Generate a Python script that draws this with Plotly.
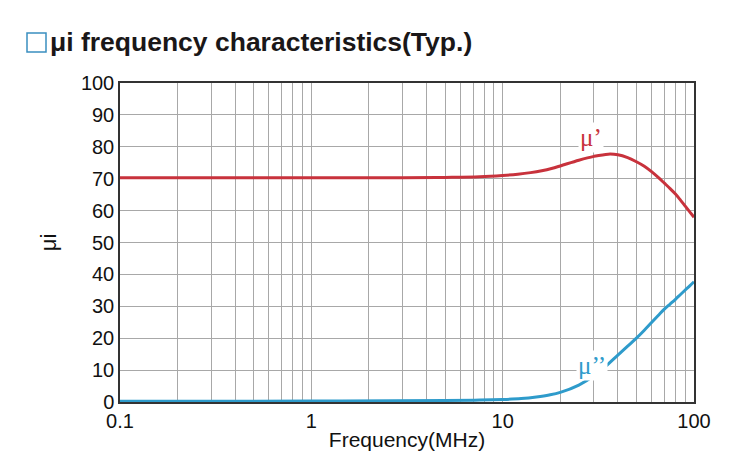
import plotly.graph_objects as go
import math

# ---- data ----
freq_mu_p = [0.1, 0.3, 1, 3, 5, 7.6, 10, 12, 14, 16, 18, 20, 25, 30, 35.6, 40, 45, 50, 55, 60, 65, 70, 75, 80, 85, 90, 95, 100]
mu_p = [70.3, 70.3, 70.3, 70.3, 70.4, 70.6, 71.0, 71.4, 71.9, 72.5, 73.2, 74.0, 75.8, 77.0, 77.7, 77.5, 76.6, 75.3, 73.9, 72.2, 70.4, 68.6, 66.9, 65.2, 63.3, 61.4, 59.6, 57.9]

freq_mu_pp = [0.1, 1, 5, 7.6, 10, 12.5, 15, 17.5, 20, 25, 30, 35, 40, 45, 50, 55, 60, 65, 70, 75, 80, 85, 90, 95, 100]
mu_pp = [0.2, 0.3, 0.5, 0.6, 0.8, 1.1, 1.6, 2.2, 3.0, 5.3, 8.2, 11.5, 14.7, 17.5, 20.0, 22.5, 24.9, 27.1, 29.1, 30.7, 32.2, 33.7, 35.1, 36.4, 37.7]

x_major = [0.1, 1, 10, 100]
x_major_labels = ["0.1", "1", "10", "100"]
y_ticks = list(range(0, 101, 10))

title_text = "μi frequency characteristics(Typ.)"
x_title = "Frequency(MHz)"
y_title = "μi"

RED = "#c8323c"
BLUE = "#2e9bcb"

# x tick values incl. minor gridlines
x_vals, x_text = [], []
for d in [0.1, 1, 10]:
    for m in range(1, 10):
        v = round(d * m, 4)
        x_vals.append(v)
        x_text.append(x_major_labels[x_major.index(d)] if m == 1 else "")
x_vals.append(100)
x_text.append("100")

fig = go.Figure()
fig.add_trace(go.Scatter(x=freq_mu_p, y=mu_p, mode="lines",
                         line=dict(color=RED, width=3, shape="spline", smoothing=1.0),
                         showlegend=False, hoverinfo="x+y"))
fig.add_trace(go.Scatter(x=freq_mu_pp, y=mu_pp, mode="lines",
                         line=dict(color=BLUE, width=3, shape="spline", smoothing=1.0),
                         showlegend=False, hoverinfo="x+y"))

fig.add_annotation(x=math.log10(29), y=82.8, text="μ’", showarrow=False,
                   font=dict(family="Liberation Serif", size=25, color=RED),
                   bgcolor="white")
fig.add_annotation(x=math.log10(29.3), y=11.3, text="μ’’", showarrow=False,
                   font=dict(family="Liberation Serif", size=25, color=BLUE),
                   bgcolor="white")

# title
fig.add_annotation(xref="paper", yref="paper", x=(48 - 120) / 574, y=(402 - 42) / 319,
                   xanchor="left", yanchor="middle", text="<b>" + title_text + "</b>",
                   showarrow=False,
                   font=dict(family="Liberation Sans", size=26.5, color="#1a1718"))
fig.add_shape(type="rect", xref="paper", yref="paper",
              x0=(27 - 120) / 574, x1=(46 - 120) / 574,
              y0=(402 - 52) / 319, y1=(402 - 33) / 319,
              line=dict(color="#3a8fc0", width=1.5), fillcolor="white")

axis_common = dict(showline=True, linecolor="#333333", linewidth=1.5, mirror=True,
                   showgrid=True, gridcolor="#a8a8a8", gridwidth=1,
                   ticks="", zeroline=False,
                   tickfont=dict(family="Liberation Sans", size=20, color="#111111"))

fig.update_layout(
    width=748, height=470,
    margin=dict(l=120, r=54, t=83, b=68),
    paper_bgcolor="white", plot_bgcolor="white",
    xaxis=dict(type="log", range=[-1, 2], tickmode="array", tickvals=x_vals, ticktext=x_text,
               title=dict(text=x_title, standoff=2,
                          font=dict(family="Liberation Sans", size=21, color="#111111")),
               **axis_common),
    yaxis=dict(range=[0, 100], tickmode="array", tickvals=y_ticks,
               title=dict(text=y_title, standoff=18,
                          font=dict(family="Liberation Sans", size=22, color="#111111")),
               **axis_common),
)

fig.write_html("out.html")
